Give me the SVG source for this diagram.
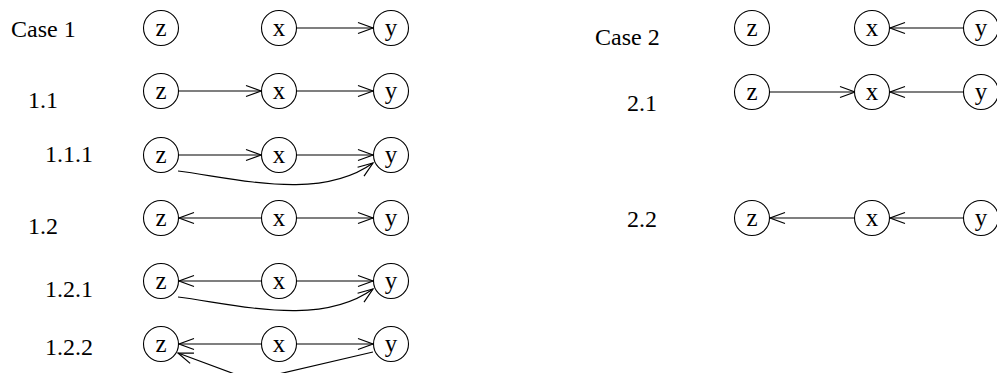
<svg xmlns="http://www.w3.org/2000/svg" width="997" height="373" viewBox="0 0 997 373" font-family="'Liberation Serif', 'Times New Roman', 'DejaVu Serif', serif">
<style>
.n circle{fill:#fff;stroke:#000;stroke-width:1.1}
.n text{font-family:'Liberation Serif','Times New Roman','DejaVu Serif',serif;font-size:25px;text-anchor:middle;fill:#000}
.lbl{font-family:'Liberation Serif','Times New Roman','DejaVu Serif',serif;font-size:24px;fill:#000}
.e{fill:none;stroke:#000;stroke-width:1.2;marker-end:url(#a)}
</style>
<defs>
<marker id="a" markerUnits="userSpaceOnUse" markerWidth="20" markerHeight="16" viewBox="-17 -8 19 16" refX="0" refY="0" orient="auto">
<path d="M-15,-5.5 L0,0 L-15,5.5" fill="none" stroke="#000" stroke-width="1.2"/>
</marker>
</defs>
<rect width="997" height="373" fill="#fff"/>
<g id="labels">
<text class="lbl" x="11" y="37" font-family="Liberation Serif">Case 1</text>
<text class="lbl" x="28" y="108" font-family="Liberation Serif">1.1</text>
<text class="lbl" x="45" y="162" font-family="Liberation Serif">1.1.1</text>
<text class="lbl" x="28" y="234" font-family="Liberation Serif">1.2</text>
<text class="lbl" x="45" y="297" font-family="Liberation Serif">1.2.1</text>
<text class="lbl" x="45" y="355" font-family="Liberation Serif">1.2.2</text>
<text class="lbl" x="595" y="45" font-family="Liberation Serif">Case 2</text>
<text class="lbl" x="627" y="111" font-family="Liberation Serif">2.1</text>
<text class="lbl" x="627" y="227" font-family="Liberation Serif">2.2</text>
</g>
<g id="connectors">
<line class="e" x1="297" y1="28" x2="373" y2="28"/>
<line class="e" x1="179" y1="91" x2="261" y2="91"/>
<line class="e" x1="297" y1="91" x2="373" y2="91"/>
<line class="e" x1="179" y1="155" x2="261" y2="155"/>
<line class="e" x1="297" y1="155" x2="373" y2="155"/>
<path class="e" d="M178,171 C240,179 320,201 373,163"/>
<line class="e" x1="261" y1="218" x2="179" y2="218"/>
<line class="e" x1="297" y1="218" x2="373" y2="218"/>
<line class="e" x1="261" y1="281" x2="179" y2="281"/>
<line class="e" x1="297" y1="281" x2="373" y2="281"/>
<path class="e" d="M178,297 C240,305 320,327 373,289"/>
<line class="e" x1="261" y1="344" x2="179" y2="344"/>
<line class="e" x1="297" y1="344" x2="373" y2="344"/>
<path class="e" d="M373,352 L270,376 Q252,381 240,376 L178,353"/>
<line class="e" x1="963" y1="28" x2="890" y2="28"/>
<line class="e" x1="770" y1="92" x2="855" y2="92"/>
<line class="e" x1="963" y1="92" x2="890" y2="92"/>
<line class="e" x1="855" y1="218" x2="770" y2="218"/>
<line class="e" x1="963" y1="218" x2="890" y2="218"/>
</g>
<g id="c1-z" class="n"><circle cx="161" cy="28" r="17.5"/><text x="161" y="36">z</text></g>
<g id="c1-x" class="n"><circle cx="279" cy="28" r="17.5"/><text x="279" y="36">x</text></g>
<g id="c1-y" class="n"><circle cx="391" cy="28" r="17.5"/><text x="391" y="36">y</text></g>
<g id="r11-z" class="n"><circle cx="161" cy="91" r="17.5"/><text x="161" y="99">z</text></g>
<g id="r11-x" class="n"><circle cx="279" cy="91" r="17.5"/><text x="279" y="99">x</text></g>
<g id="r11-y" class="n"><circle cx="391" cy="91" r="17.5"/><text x="391" y="99">y</text></g>
<g id="r111-z" class="n"><circle cx="161" cy="155" r="17.5"/><text x="161" y="163">z</text></g>
<g id="r111-x" class="n"><circle cx="279" cy="155" r="17.5"/><text x="279" y="163">x</text></g>
<g id="r111-y" class="n"><circle cx="391" cy="155" r="17.5"/><text x="391" y="163">y</text></g>
<g id="r12-z" class="n"><circle cx="161" cy="218" r="17.5"/><text x="161" y="226">z</text></g>
<g id="r12-x" class="n"><circle cx="279" cy="218" r="17.5"/><text x="279" y="226">x</text></g>
<g id="r12-y" class="n"><circle cx="391" cy="218" r="17.5"/><text x="391" y="226">y</text></g>
<g id="r121-z" class="n"><circle cx="161" cy="281" r="17.5"/><text x="161" y="289">z</text></g>
<g id="r121-x" class="n"><circle cx="279" cy="281" r="17.5"/><text x="279" y="289">x</text></g>
<g id="r121-y" class="n"><circle cx="391" cy="281" r="17.5"/><text x="391" y="289">y</text></g>
<g id="r122-z" class="n"><circle cx="161" cy="344" r="17.5"/><text x="161" y="352">z</text></g>
<g id="r122-x" class="n"><circle cx="279" cy="344" r="17.5"/><text x="279" y="352">x</text></g>
<g id="r122-y" class="n"><circle cx="391" cy="344" r="17.5"/><text x="391" y="352">y</text></g>
<g id="c2-z" class="n"><circle cx="752" cy="28" r="17.5"/><text x="752" y="36">z</text></g>
<g id="c2-x" class="n"><circle cx="872" cy="28" r="17.5"/><text x="872" y="36">x</text></g>
<g id="c2-y" class="n"><circle cx="981" cy="28" r="17.5"/><text x="981" y="36">y</text></g>
<g id="r21-z" class="n"><circle cx="752" cy="92" r="17.5"/><text x="752" y="100">z</text></g>
<g id="r21-x" class="n"><circle cx="872" cy="92" r="17.5"/><text x="872" y="100">x</text></g>
<g id="r21-y" class="n"><circle cx="981" cy="92" r="17.5"/><text x="981" y="100">y</text></g>
<g id="r22-z" class="n"><circle cx="752" cy="218" r="17.5"/><text x="752" y="226">z</text></g>
<g id="r22-x" class="n"><circle cx="872" cy="218" r="17.5"/><text x="872" y="226">x</text></g>
<g id="r22-y" class="n"><circle cx="981" cy="218" r="17.5"/><text x="981" y="226">y</text></g>
</svg>
